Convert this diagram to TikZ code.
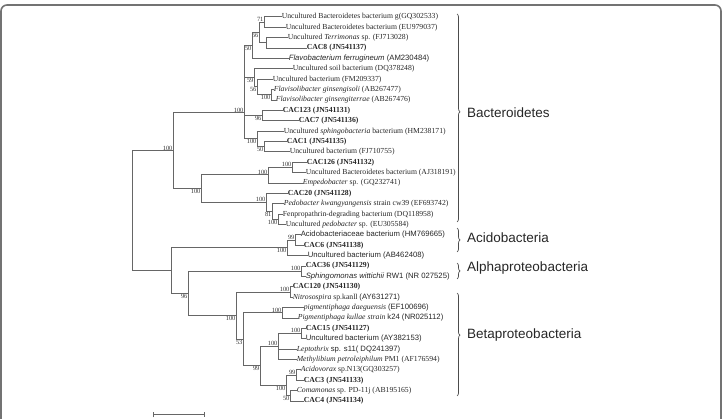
\documentclass[tikz,border=0pt]{standalone}
\usepackage{fontspec}
\setmainfont{Liberation Serif}
\setsansfont{Liberation Sans}
\usetikzlibrary{arrows.meta, decorations.pathreplacing, calc}

\tikzset{
  br/.style={draw=black!60, line width=1pt, line cap=rect},
  leaf/.style={anchor=west, inner sep=0.6pt, font=\fontsize{7.7}{8}\selectfont, text=black!85},
  bs/.style={inner sep=0.4pt, font=\fontsize{6.4}{6.4}\selectfont, text=black!80},
  clade/.style={anchor=west, inner sep=0pt, font=\sffamily\fontsize{13.5}{14}\selectfont, text=black!85},
  brc/.style={draw=black!70, line width=0.7pt, decorate, decoration={brace, amplitude=3pt}},
}

\begin{document}
\begin{tikzpicture}[x=1pt, y=-1pt]
  \useasboundingbox (0,0) rectangle (723,419);
  \clip (0,0) rectangle (723,419);
  % Moldura
  \draw[black!55, line width=1.6pt, rounded corners=6pt] (1,5) rectangle (721,450);
  % Folhas (uma por linha)
  \foreach \i/\x/\t in {
      1/281/{Uncultured Bacteroidetes bacterium g(GQ302533)},
      2/285/{Uncultured Bacteroidetes bacterium (EU979037)},
      3/287/{Uncultured \textit{Terrimonas} sp. (FJ713028)},
      4/306/{\textbf{CAC8 (JN541137)}},
      5/288/{\textsf{\textit{Flavobacterium ferrugineum} (AM230484)}},
      6/292/{Uncultured soil bacterium (DQ378248)},
      7/272/{Uncultured bacterium (FM209337)},
      8/273/{\textit{Flavisolibacter ginsengisoli} (AB267477)},
      9/275/{\textit{Flavisolibacter ginsengiterrae} (AB267476)},
      10/282/{\textbf{CAC123 (JN541131)}},
      11/298/{\textbf{CAC7 (JN541136)}},
      12/283/{Uncultured \textit{sphingobacteria} bacterium (HM238171)},
      13/286/{\textbf{CAC1 (JN541135)}},
      14/289/{Uncultured bacterium (FJ710755)},
      15/306/{\textbf{CAC126 (JN541132)}},
      16/305/{Uncultured Bacteroidetes bacterium (AJ318191)},
      17/302/{\textit{Empedobacter} sp. (GQ232741)},
      18/287/{\textbf{CAC20 (JN541128)}},
      19/283/{\textit{Pedobacter kwangyangensis} strain cw39 (EF693742)},
      20/282/{Fenpropathrin-degrading bacterium (DQ118958)},
      21/285/{Uncultured \textit{pedobacter} sp. (EU305584)},
      22/300/{\textsf{Acidobacteriaceae bacterium (HM769665)}},
      23/303/{\textbf{CAC6 (JN541138)}},
      24/307/{\textsf{Uncultured bacterium (AB462408)}},
      25/305/{\textbf{CAC36 (JN541129)}},
      26/305/{\textsf{\textit{Sphingomonas wittichii} RW1 (NR 027525)}},
      27/292/{\textbf{CAC120 (JN541130)}},
      28/292/{\textit{Nitrosospira} sp.kanll \textsf{(AY631271)}},
      29/303/{\textit{pigmentiphaga daeguensis} \textsf{(EF100696)}},
      30/297/{\textit{Pigmentiphaga kullae strain} \textsf{k24 (NR025112)}},
      31/305/{\textbf{CAC15 (JN541127)}},
      32/305/{\textsf{Uncultured bacterium (AY382153)}},
      33/296/{\textit{Leptothrix} \textsf{sp. s11( DQ241397)}},
      34/296/{\textit{Methylibium petroleiphilum} PM1 (AF176594)},
      35/300/{\textit{Acidovorax} sp.N13(GQ303257)},
      36/303/{\textbf{CAC3 (JN541133)}},
      37/296/{\textit{Comamonas} sp. PD-11j (AB195165)},
      38/303/{\textbf{CAC4 (JN541134)}}}
    \node[leaf] (L\i) at (\x,{17+10.38*(\i-1)}) {\t};
  % Nos internos e valores de bootstrap
  \foreach \n/\x/\y/\b/\a in {
      n71/264/22.2/71/south east, n56/259/32.6/56/north east,
      n50/252/45.5/50/north east, n100a/271/94.8/100/north east,
      n56b/257/87/56/north east, n59/254/78/59/north east,
      n96a/262/115.6/96/north east, n50c/264/146.8/50/north east,
      n100c/257/139/100/north east, nB1/244/113/100/south east,
      n100e/292/167.5/100/south east, nEm/268/175/100/south east,
      nP3/278/219.4/100/north east, nP2/272/211.6/81/north east,
      nP1/266/202.5/100/south east, nB2/201/189/100/north east,
      nBa/173/151/100/south east, n99/295/240.2/99/south east,
      nAc/287/248/100/north east, nAl/301/271.3/100/south east,
      nNi/290/292.1/100/south east, nPig/282/312.8/100/south east,
      nC15/301/333.6/100/south east, nLep/278/346.5/100/south east,
      n99c/296/375.1/99/south east, n50d/290/395.9/50/north east,
      nCom/286/385.5/100/north east, n99b/260/366/99/north east,
      n53/243/339.4/53/north east, nBeta/236/315.8/100/north east,
      n96/188/293.5/96/north east}{
    \coordinate (\n) at (\x,\y);
    \node[bs, anchor=\a] (b\n) at (\n) {\b};
  }
  \coordinate (n34) at (266,43.0);
  \coordinate (nAP) at (171,270.8);
  \coordinate (root) at (132,211);
  % Ramos
  \foreach \p/\c in {
      n71/L1.west, n71/L2.west, n34/L3.west, n34/L4.west,
      n56/n71, n56/n34, n50/n56, n50/L5.west,
      n100a/L8.west, n100a/L9.west, n56b/L7.west, n56b/n100a,
      n59/L6.west, n59/n56b, n96a/L10.west, n96a/L11.west,
      n50c/L13.west, n50c/L14.west, n100c/L12.west, n100c/n50c,
      nB1/n50, nB1/n59, nB1/n96a, nB1/n100c,
      n100e/L15.west, n100e/L16.west, nEm/n100e, nEm/L17.west,
      nP3/L20.west, nP3/L21.west, nP2/L19.west, nP2/nP3,
      nP1/L18.west, nP1/nP2, nB2/nEm, nB2/nP1, nBa/nB1, nBa/nB2,
      n99/L22.west, n99/L23.west, nAc/n99, nAc/L24.west,
      nAl/L25.west, nAl/L26.west, nNi/L27.west, nNi/L28.west,
      nPig/L29.west, nPig/L30.west, nC15/L31.west, nC15/L32.west,
      nLep/nC15, nLep/L33.west, nLep/L34.west,
      n99c/L35.west, n99c/L36.west, n50d/L37.west, n50d/L38.west,
      nCom/n99c, nCom/n50d, n99b/nLep, n99b/nCom,
      n53/nPig, n53/n99b, nBeta/nNi, nBeta/n53,
      n96/nAl, n96/nBeta, nAP/nAc, nAP/n96,
      root/nBa, root/nAP}
    \draw[br] (\p) |- (\c);
  % Chaves dos grupos
  \foreach \ya/\yb/\s in {14/222/0.47, 228/252/0.5, 263/279/0.5, 293/396/0.41}
    \draw[brc, decoration={aspect=\s}] (457,\ya) -- (457,\yb);
  \node[clade] (cBac) at (467,113) {Bacteroidetes};
  \node[clade] (cAci) at (467,238) {Acidobacteria};
  \node[clade] (cAlf) at (467,268) {Alphaproteobacteria};
  \node[clade] (cBet) at (467,335) {Betaproteobacteria};
  % Barra de escala
  \coordinate (s0) at (153,415);
  \coordinate (s1) at (205,415);
  \draw[br, line cap=butt, {Bar[width=5pt]}-{Bar[width=5pt]}] (s0) -- (s1);
\end{tikzpicture}
\end{document}
